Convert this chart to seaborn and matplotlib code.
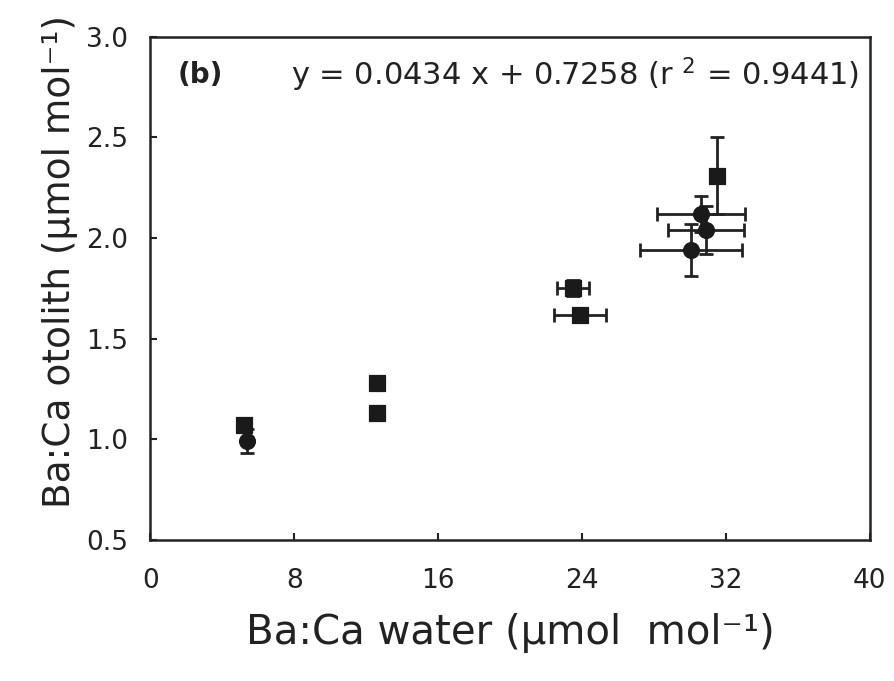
import matplotlib
matplotlib.use("Agg")
import matplotlib.pyplot as plt
import seaborn as sns
import pandas as pd

sns.set_theme(style="ticks")
plt.rcParams['font.family'] = ['DejaVu Sans']
plt.rcParams['mathtext.fontset'] = 'dejavusans'

# squares
sq_x = [5.2, 12.6, 12.6, 23.5, 23.9, 31.5]
sq_y = [1.07, 1.28, 1.13, 1.75, 1.62, 2.31]
sq_xerr = [0.0, 0.0, 0.0, 0.9, 1.45, 0.0]
sq_yerr = [0.02, 0.03, 0.03, 0.04, 0.02, 0.19]
# circles
ci_x = [5.4, 12.6, 12.6, 30.6, 30.9, 30.05]
ci_y = [0.99, 1.28, 1.13, 2.12, 2.04, 1.94]
ci_xerr = [0.0, 0.0, 0.0, 2.45, 2.1, 2.85]
ci_yerr = [0.06, 0.03, 0.03, 0.09, 0.12, 0.13]

df_sq = pd.DataFrame({"x": sq_x, "y": sq_y})
df_ci = pd.DataFrame({"x": ci_x, "y": ci_y})

fig = plt.figure(figsize=(8.94, 6.81), dpi=100)
ax = fig.add_axes([0.168, 0.207, 0.805, 0.739])

ax.errorbar(sq_x, sq_y, xerr=sq_xerr, yerr=sq_yerr, fmt="none", ecolor="#222222",
            elinewidth=2, capsize=5, capthick=2, zorder=2)
ax.errorbar(ci_x, ci_y, xerr=ci_xerr, yerr=ci_yerr, fmt="none", ecolor="#222222",
            elinewidth=2, capsize=5, capthick=2, zorder=2)
sns.scatterplot(data=df_sq, x="x", y="y", marker="s", s=120, color="#1a1a1a",
                edgecolor="#1a1a1a", ax=ax, zorder=3)
sns.scatterplot(data=df_ci, x="x", y="y", marker="o", s=130, color="#1a1a1a",
                edgecolor="#1a1a1a", ax=ax, zorder=3)

ax.set_xlim(0, 40)
ax.set_ylim(0.5, 3.0)
ax.set_xticks([0, 8, 16, 24, 32, 40])
ax.set_yticks([0.5, 1.0, 1.5, 2.0, 2.5, 3.0])
ax.set_yticklabels(["0.5", "1.0", "1.5", "2.0", "2.5", "3.0"])
ax.tick_params(axis="both", labelsize=19, width=1.5, length=5, direction="in", colors="#222222")
ax.tick_params(axis="x", pad=20)
ax.tick_params(axis="y", pad=16)
for s in ax.spines.values():
    s.set_linewidth(1.8)
    s.set_color("#222222")

ax.set_xlabel("Ba:Ca water (µmol  mol⁻¹)", fontsize=29, color="#222222", labelpad=14)
ax.set_ylabel("Ba:Ca otolith (µmol mol⁻¹)", fontsize=27, color="#222222")
ax.yaxis.set_label_coords(-0.10, 0.553)

ax.text(0.038, 0.925, "(b)", transform=ax.transAxes, fontsize=20, fontweight="bold",
        ha="left", va="center", color="#222222")
ax.text(0.985, 0.925, "y = 0.0434 x + 0.7258 (r $^{2}$ = 0.9441)", transform=ax.transAxes,
        fontsize=22, ha="right", va="center", color="#222222")

fig.savefig("out.png", dpi=100)
